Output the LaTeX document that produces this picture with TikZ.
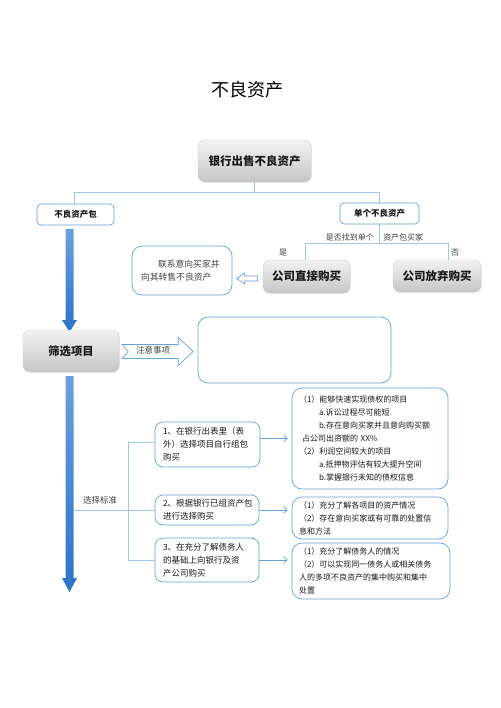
\documentclass[tikz,border=0pt]{standalone}
\usepackage{fontspec}
\setmainfont{Noto Sans CJK SC}
\usetikzlibrary{arrows.meta,shadows}
\definecolor{lnk}{RGB}{160,198,232}
\definecolor{bdr}{RGB}{100,160,218}
\definecolor{arT}{RGB}{105,160,222}
\definecolor{arB}{RGB}{45,115,198}
\definecolor{txt}{RGB}{25,25,25}
\definecolor{soft}{RGB}{65,65,65}
\begin{document}
\begin{tikzpicture}[x=1pt,y=-1pt,
  graybox/.style={draw=gray!40, rounded corners=7pt, top color=gray!10, bottom color=gray!45,
    text=txt, inner sep=0pt, font=\bfseries\fontsize{11.5}{14}\selectfont,
    drop shadow={opacity=0.2, shadow xshift=0.8pt, shadow yshift=-0.8pt}},
  bluebox/.style={draw=bdr, line width=0.7pt, fill=white, inner sep=0pt, text=txt},
  smallbox/.style={bluebox, rounded corners=4pt, font=\bfseries\fontsize{8.5}{10}\selectfont},
  leftbox/.style={bluebox, rounded corners=8pt, align=left, inner xsep=8pt,
    font=\fontsize{8.5}{13}\selectfont},
  rightbox/.style={bluebox, rounded corners=10pt, align=left, inner xsep=7pt,
    font=\fontsize{8}{13}\selectfont},
  lbl/.style={text=soft, inner sep=0pt, font=\fontsize{8}{10}\selectfont},
  conn/.style={draw=lnk, line width=0.6pt},
  barrow/.style={draw=bdr, line width=0.7pt, -{Straight Barb[length=3.5pt,width=7pt]}},
  thick arrow/.style={top color=arT, bottom color=arB}
]
\useasboundingbox (0,0) rectangle (500,708);

% title
\node[text=black, font=\fontsize{18}{20}\selectfont] (title) at (247.5,90) {不良资产};

% top part
\node[graybox, minimum width=113pt, minimum height=42pt] (top) at (254.5,161) {银行出售不良资产};
\node[smallbox, minimum width=77pt, minimum height=21pt] (pkg) at (75.5,214.5) {不良资产包};
\node[smallbox, minimum width=79pt, minimum height=21pt] (single) at (379.5,213.5) {单个不良资产};

\draw[conn] (top.south) -- ++(0,10) coordinate (j1);
\draw[conn] (j1) -| ([xshift=-1.5pt]pkg.north);
\draw[conn] (j1) -| (single.north);

\node[graybox, minimum width=87pt, minimum height=33pt] (direct) at (306.5,276.5) {公司直接购买};
\node[graybox, minimum width=88pt, minimum height=32pt] (abandon) at (437,276) {公司放弃购买};

\draw[conn] (single.south) -- ++(0,19) coordinate (j2);
\draw[conn] (j2) -| ([xshift=-1.5pt]direct.north);
\draw[conn] (j2) -| ([xshift=11pt]abandon.north);

\node[lbl, anchor=east] (q1) at (374,237) {是否找到单个};
\node[lbl, anchor=west] (q2) at (383,237) {资产包买家};
\node[lbl] (yes) at (283,253) {是};
\node[lbl] (no) at (455,253) {否};

\node[bluebox, rounded corners=10pt, text width=82pt, inner xsep=9pt, minimum height=49pt,
  align=left, text=soft, font=\fontsize{8.8}{13}\selectfont] (contact) at (182,270.5)
  {\hspace*{17pt}联系意向买家并\\向其转售不良资产};

% hollow arrow pointing left
\coordinate (ha) at ([xshift=-5pt,yshift=-2pt]direct.west);
\draw[draw=bdr, fill=white, line width=0.7pt] (ha) ++(0,-2.5) -- ++(-13,0) -- ++(0,-3)
  -- ++(-8,5.5) -- ++(8,5.5) -- ++(0,-3) -- ++(13,0) -- cycle;

% thick blue arrow 1
\shade[thick arrow] (65.5,229) -- (73.5,229) -- (73.5,320) -- (77,320) -- (69.5,332)
  -- (62,320) -- (65.5,320) -- cycle;

% screen
\node[graybox, minimum width=96pt, minimum height=42pt, font=\bfseries\fontsize{11.3}{14}\selectfont]
  (screen) at (71,351) {筛选项目};

% note chevron arrow
\coordinate (ca) at ([xshift=3pt,yshift=-0.5pt]screen.east);
\draw[draw=bdr, fill=white, line width=0.7pt] (ca) ++(0,-7) -- ++(6,7) -- ++(-6,7)
  -- ++(56,0) -- ++(0,7) -- ++(15,-14) -- ++(-15,-14) -- ++(0,7) -- cycle;
\node[lbl, font=\fontsize{8.5}{10}\selectfont] (note) at (153,350.5) {注意事项};

\node[bluebox, rounded corners=10pt, minimum width=193pt, minimum height=66pt] (notebox)
  at (294.5,350) {};

% thick blue arrow 2
\shade[thick arrow] (65.5,376) -- (73.5,376) -- (73.5,578) -- (77,578) -- (69.5,592)
  -- (62,578) -- (65.5,578) -- cycle;

% selection criteria
\node[leftbox, text width=89pt, minimum height=45pt] (box1) at (207.5,444.5)
  {1、在银行出表里（表\\外）选择项目自行组包\\购买};
\node[leftbox, text width=88pt, minimum height=30pt] (box2) at (207,510)
  {2、根据银行已组资产包\\进行选择购买};
\node[leftbox, text width=88pt, minimum height=44pt] (box3) at (207,560)
  {3、在充分了解债务人\\的基础上向银行及资\\产公司购买};

\node[rightbox, text width=142pt, minimum height=101pt] (r1) at (370,438.5)
  {（1）能够快速实现债权的项目\\
   \hspace*{20pt}a.诉讼过程尽可能短\\
   \hspace*{20pt}b.存在意向买家并且意向购买额\\
   \hspace*{3pt}占公司出资额的 XX\%\\
   （2）利润空间较大的项目\\
   \hspace*{20pt}a.抵押物评估有较大提升空间\\
   \hspace*{20pt}b.掌握银行未知的债权信息};
\node[rightbox, text width=142pt, minimum height=42pt] (r2) at (370,518)
  {（1）充分了解各项目的资产情况\\
   （2）存在意向买家或有可靠的处置信\\
   息和方法};
\node[rightbox, text width=144pt, minimum height=56pt] (r3) at (371,571)
  {（1）充分了解债务人的情况\\
   （2）可以实现同一债务人或相关债务\\
   人的多项不良资产的集中购买和集中\\
   处置};

\coordinate (axis) at (73.5,510);
\coordinate (br) at (128,0);
\draw[conn] (axis) -- (box2.west);
\draw[conn] ([yshift=2pt]box1.west) -- ([yshift=2pt]box1.west -| br) -- (box3.west -| br) -- (box3.west);
\node[lbl, font=\fontsize{8.5}{10}\selectfont] (crit) at (100,500) {选择标准};

\draw[barrow, shorten >=4pt] (r1.west -| box1.east) -- (r1.west);
\draw[barrow, shorten >=4pt] (box2.east) -- (box2.east -| r2.west);
\draw[barrow, shorten >=4pt] (box3.east) -- (box3.east -| r3.west);
\end{tikzpicture}
\end{document}
